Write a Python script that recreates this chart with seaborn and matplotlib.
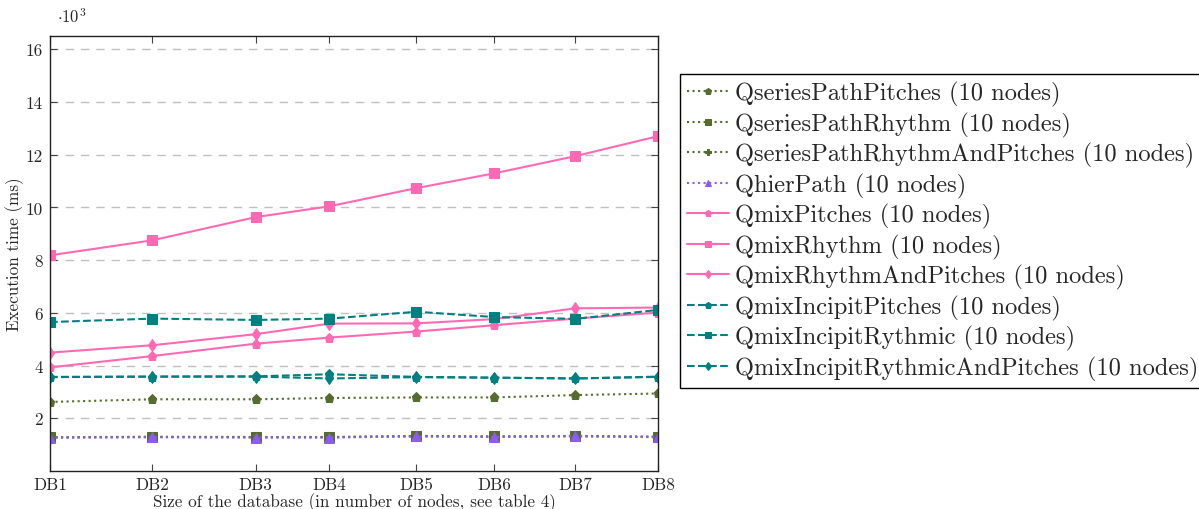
import numpy as np
import pandas as pd
import matplotlib
matplotlib.use("Agg")
import matplotlib.pyplot as plt
import seaborn as sns

# ---- data (execution times in ms) ----
db_labels = ["DB1", "DB2", "DB3", "DB4", "DB5", "DB6", "DB7", "DB8"]
db_size = [1.0, 2.0, 3.01, 3.73, 4.58, 5.34, 6.13, 6.94]

series_names = [
    "QseriesPathPitches (10 nodes)",
    "QseriesPathRhythm (10 nodes)",
    "QseriesPathRhythmAndPitches (10 nodes)",
    "QhierPath (10 nodes)",
    "QmixPitches (10 nodes)",
    "QmixRhythm (10 nodes)",
    "QmixRhythmAndPitches (10 nodes)",
    "QmixIncipitPitches (10 nodes)",
    "QmixIncipitRythmic (10 nodes)",
    "QmixIncipitRythmicAndPitches (10 nodes)",
]

qseries_pitches = [2620, 2720, 2720, 2770, 2790, 2790, 2880, 2940]
qseries_rhythm = [1280, 1300, 1290, 1290, 1330, 1310, 1330, 1300]
qseries_rhythm_pitches = [1270, 1290, 1280, 1280, 1320, 1300, 1320, 1290]
qhier_path = [1270, 1280, 1270, 1270, 1310, 1290, 1320, 1280]
qmix_pitches = [3930, 4360, 4830, 5060, 5290, 5530, 5780, 6010]
qmix_rhythm = [8180, 8750, 9630, 10040, 10730, 11290, 11940, 12700]
qmix_rhythm_pitches = [4490, 4770, 5190, 5590, 5600, 5760, 6170, 6200]
qmix_incipit_pitches = [3570, 3580, 3590, 3670, 3570, 3540, 3510, 3580]
qmix_incipit_rythmic = [5650, 5780, 5730, 5780, 6040, 5840, 5770, 6110]
qmix_incipit_rythmic_pitches = [3560, 3580, 3580, 3510, 3560, 3540, 3510, 3570]

all_values = [qseries_pitches, qseries_rhythm, qseries_rhythm_pitches, qhier_path,
              qmix_pitches, qmix_rhythm, qmix_rhythm_pitches,
              qmix_incipit_pitches, qmix_incipit_rythmic, qmix_incipit_rythmic_pitches]

# ---- styles ----
olive = "#556b2f"
purple = "#8c5cf2"
pink = "#ff69b4"
teal = "#008080"
styles = [
    (olive, "p", ":"),
    (olive, "s", ":"),
    (olive, "P", ":"),
    (purple, "^", ":"),
    (pink, "p", "-"),
    (pink, "s", "-"),
    (pink, "d", "-"),
    (teal, "p", "--"),
    (teal, "s", "--"),
    (teal, "d", "--"),
]

sns.set_theme(style="ticks")
plt.rcParams["font.family"] = ["cmr10", "DejaVu Serif"]
plt.rcParams["mathtext.fontset"] = "cm"
plt.rcParams["axes.unicode_minus"] = False
plt.rcParams["axes.formatter.use_mathtext"] = True

fig = plt.figure(figsize=(11.99, 5.10), dpi=100)
ax = fig.add_axes([50 / 1199, 38 / 510, 608 / 1199, 435 / 510])

for name, vals, (c, m, ls) in zip(series_names, all_values, styles):
    df = pd.DataFrame({"x": db_size, "y": np.array(vals) / 1000.0})
    sns.lineplot(data=df, x="x", y="y", ax=ax, color=c, marker=m, linestyle=ls,
                 linewidth=1.5, markersize=6.5, markeredgecolor=c, label=name)

ax.set_xlim(db_size[0], db_size[-1])
ax.set_ylim(0, 16.5)
ax.set_xticks(db_size)
ax.set_xticklabels(db_labels)
ax.set_yticks([2, 4, 6, 8, 10, 12, 14, 16])
ax.set_yticklabels([str(v) for v in [2, 4, 6, 8, 10, 12, 14, 16]])
ax.yaxis.grid(True, linestyle=(0, (6, 5)), color="#c0c0c0", linewidth=1.0)
ax.set_axisbelow(True)
ax.tick_params(axis="both", direction="in", length=5, width=0.8, color="#444444",
               labelsize=12.3, top=True, right=True, pad=5)
ax.tick_params(axis="x", pad=4)
for sp in ax.spines.values():
    sp.set_color("#222222")
    sp.set_linewidth(1.0)

ax.set_xlabel("Size of the database (in number of nodes, see table 4)", fontsize=12.3, labelpad=0)
ax.set_ylabel("Execution time (ms)", fontsize=12.3, labelpad=1)
ax.text(0.012, 1.025, r"$\cdot10^{3}$", transform=ax.transAxes, fontsize=12, ha="left", va="bottom")

if ax.legend_ is not None:
    ax.legend_.remove()
handles, labels = ax.get_legend_handles_labels()
leg = fig.legend(handles, labels, loc="upper left", bbox_to_anchor=(680 / 1199, 1 - 75 / 510),
                 fontsize=17.6, frameon=True, fancybox=False, framealpha=1, edgecolor="black",
                 handlelength=1.7, handletextpad=0.25, labelspacing=0.22, borderpad=0.3,
                 markerscale=0.7, borderaxespad=0)
leg.get_frame().set_linewidth(1.0)

fig.savefig("out.png", dpi=100)
